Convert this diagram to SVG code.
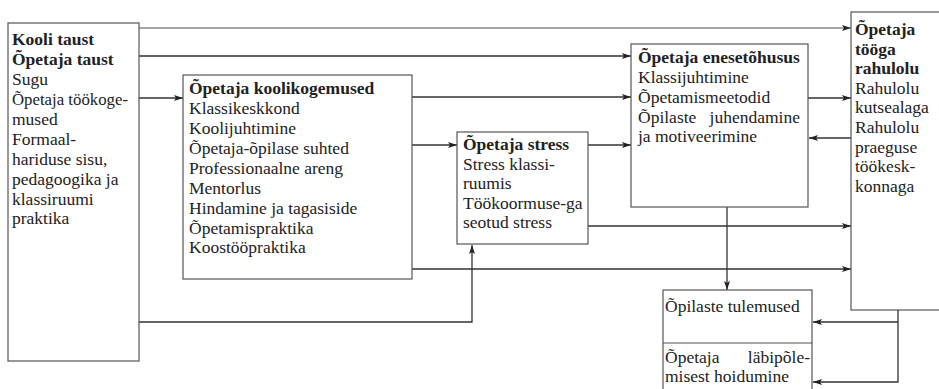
<svg xmlns="http://www.w3.org/2000/svg" width="939" height="389" viewBox="0 0 939 389">
<defs>
<style>
.box{fill:#fff;stroke:#555;stroke-width:1.2}
.ln{fill:none;stroke:#333;stroke-width:1.3}
.lg{fill:none;stroke:#888;stroke-width:1.3}
text{font-family:'Liberation Serif',serif;font-size:17.5px;fill:#222}
.b{font-weight:bold}
</style>
<marker id="ah" viewBox="0 0 9 6" refX="9" refY="3" markerWidth="9" markerHeight="6" markerUnits="userSpaceOnUse" orient="auto">
<path d="M0,0 L9,3 L0,6 L2,3 z" fill="#222"/>
</marker>
</defs>
<rect width="939" height="389" fill="#fff"/>
<g id="connectors">
<path class="lg" d="M139,28 H851" marker-end="url(#ah)"/>
<path class="ln" d="M139,56 H631" marker-end="url(#ah)"/>
<path class="ln" d="M139,98 H183" marker-end="url(#ah)"/>
<path class="ln" d="M139,322 H472 V245" marker-end="url(#ah)"/>
<path class="ln" d="M412,97 H631" marker-end="url(#ah)"/>
<path class="ln" d="M412,145 H457" marker-end="url(#ah)"/>
<path class="ln" d="M588,145 H631" marker-end="url(#ah)"/>
<path class="ln" d="M588,226 H851" marker-end="url(#ah)"/>
<path class="ln" d="M412,269 H851" marker-end="url(#ah)"/>
<path class="ln" d="M808,98 H851" marker-end="url(#ah)"/>
<path class="ln" d="M851,138 H809" marker-end="url(#ah)"/>
<path class="ln" d="M727,207 V290" marker-end="url(#ah)"/>
<path class="ln" d="M898,310 V382 H813" marker-end="url(#ah)"/>
<path class="ln" d="M898,322 H813" marker-end="url(#ah)"/>
</g>
<g id="tausta">
<rect class="box" x="8" y="23" width="131" height="338"/>
<text x="12" y="45" class="b">Kooli taust</text>
<text x="12" y="65" class="b">Õpetaja taust</text>
<text x="12" y="85">Sugu</text>
<text x="12" y="105" textLength="116" lengthAdjust="spacingAndGlyphs">Õpetaja töökoge-</text>
<text x="12" y="125">mused</text>
<text x="12" y="145">Formaal-</text>
<text x="12" y="165">hariduse sisu,</text>
<text x="12" y="185">pedagoogika ja</text>
<text x="12" y="205">klassiruumi</text>
<text x="12" y="224">praktika</text>
</g>
<g id="koolikogemused">
<rect class="box" x="183" y="75" width="229" height="204"/>
<text x="189" y="94" class="b">Õpetaja koolikogemused</text>
<text x="189" y="114">Klassikeskkond</text>
<text x="189" y="134">Koolijuhtimine</text>
<text x="189" y="154">Õpetaja-õpilase suhted</text>
<text x="189" y="174">Professionaalne areng</text>
<text x="189" y="194">Mentorlus</text>
<text x="189" y="214">Hindamine ja tagasiside</text>
<text x="189" y="234">Õpetamispraktika</text>
<text x="189" y="253">Koostööpraktika</text>
</g>
<g id="stress">
<rect class="box" x="457" y="132" width="131" height="112"/>
<text x="463" y="150" class="b">Õpetaja stress</text>
<text x="463" y="170">Stress klassi-</text>
<text x="463" y="189">ruumis</text>
<text x="463" y="209">Töökoormuse-ga</text>
<text x="463" y="228">seotud stress</text>
</g>
<g id="enesetohusus">
<rect class="box" x="631" y="44" width="177" height="163"/>
<text x="638" y="63" class="b">Õpetaja enesetõhusus</text>
<text x="638" y="83">Klassijuhtimine</text>
<text x="638" y="103">Õpetamismeetodid</text>
<text x="638" y="123">Õpilaste</text>
<text x="800" y="123" text-anchor="end">juhendamine</text>
<text x="638" y="142">ja motiveerimine</text>
</g>
<g id="rahulolu">
<rect class="box" x="851" y="12" width="92" height="298"/>
<text x="855" y="35" class="b">Õpetaja</text>
<text x="855" y="55" class="b">tööga</text>
<text x="855" y="74" class="b">rahulolu</text>
<text x="855" y="94">Rahulolu</text>
<text x="855" y="113">kutsealaga</text>
<text x="855" y="133">Rahulolu</text>
<text x="855" y="153">praeguse</text>
<text x="855" y="172">töökesk-</text>
<text x="855" y="192">konnaga</text>
</g>
<g id="tulemused">
<rect class="box" x="663" y="290" width="149" height="110"/>
<path class="box" d="M663,343 H812"/>
<text x="665" y="312">Õpilaste tulemused</text>
<text x="665" y="363">Õpetaja</text>
<text x="810" y="363" text-anchor="end">läbipõle-</text>
<text x="665" y="382">misest hoidumine</text>
</g>
</svg>
